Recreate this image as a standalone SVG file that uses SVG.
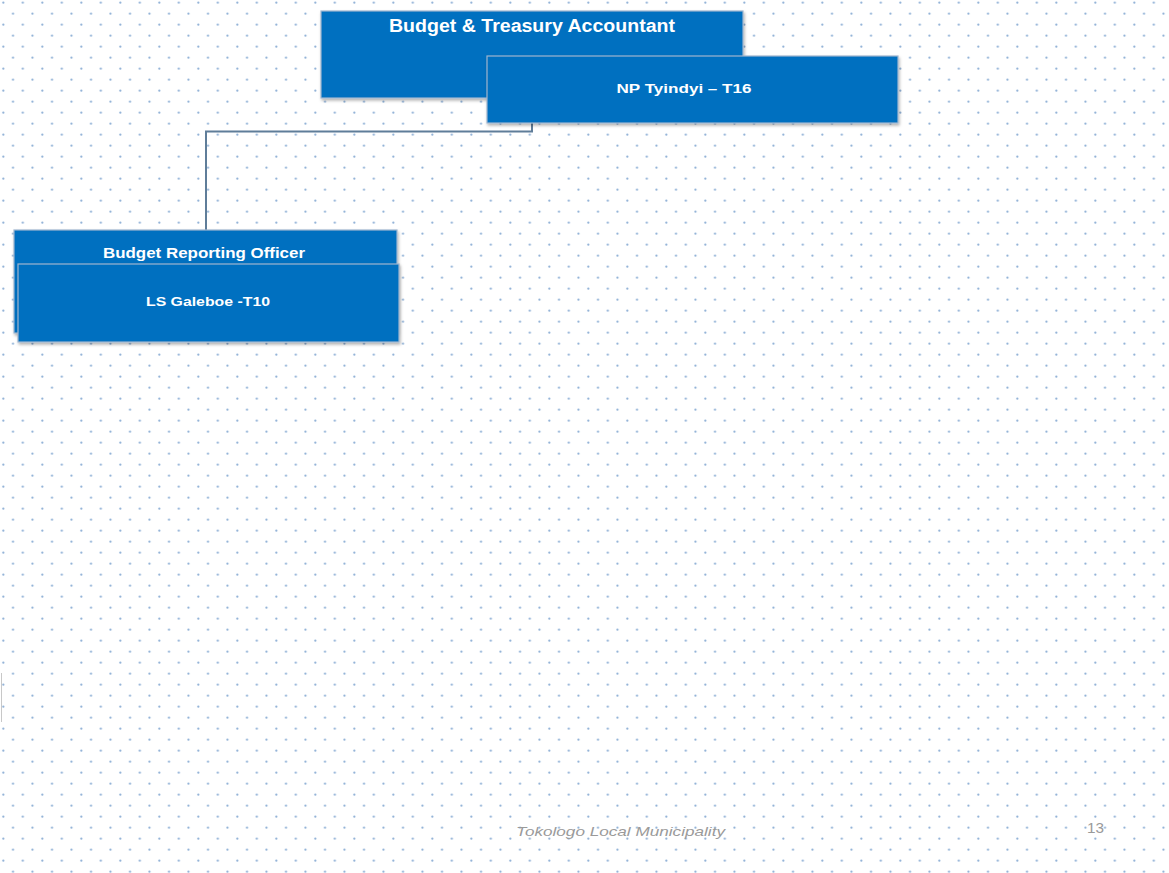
<svg xmlns="http://www.w3.org/2000/svg" width="1169" height="873" viewBox="0 0 1169 873">
<defs>
<pattern id="dots" x="0" y="0" width="19.5" height="22" patternUnits="userSpaceOnUse">
<circle cx="3.3" cy="2.7" r="1.1" fill="#8fb0d6"/>
<circle cx="13" cy="13.7" r="1.1" fill="#8fb0d6"/>
</pattern>
<filter id="sh" x="-5%" y="-10%" width="115%" height="130%">
<feDropShadow dx="1" dy="2" stdDeviation="1.5" flood-color="#000" flood-opacity="0.3"/>
</filter>
</defs>
<style>
.box{fill:#0070C0;stroke:#9db5cf;stroke-width:1.2;filter:url(#sh)}
.t{font-family:"Liberation Sans",Arial,sans-serif;fill:#ffffff;font-weight:bold;text-anchor:middle}
.conn{fill:none;stroke:#5f7d99;stroke-width:2}
.foot{font-family:"Liberation Sans",Arial,sans-serif;fill:#9a9a9a}
</style>
<rect width="1169" height="873" fill="#ffffff"/>
<rect width="1169" height="873" fill="url(#dots)"/>
<line x1="1.5" y1="673" x2="1.5" y2="722" stroke="#c8c8c8" stroke-width="1"/>
<g id="connectors">
<polyline class="conn" points="532,123 532,131.5 206,131.5 206,230"/>
</g>
<g id="node-accountant">
<rect class="box" x="321" y="11" width="422" height="87"/>
<text class="t" x="532" y="32" font-size="18" textLength="286" lengthAdjust="spacingAndGlyphs">Budget &amp; Treasury  Accountant</text>
</g>
<g id="node-tyindyi">
<rect class="box" x="487" y="56" width="411" height="67"/>
<text class="t" x="684" y="93" font-size="12" textLength="135" lengthAdjust="spacingAndGlyphs">NP Tyindyi  – T16</text>
</g>
<g id="node-reporting">
<rect class="box" x="14" y="230" width="383" height="103"/>
<text class="t" x="204" y="258" font-size="15" textLength="202" lengthAdjust="spacingAndGlyphs">Budget Reporting Officer</text>
</g>
<g id="node-galeboe">
<rect class="box" x="18" y="264" width="381" height="78"/>
<text class="t" x="208" y="306" font-size="12" textLength="124" lengthAdjust="spacingAndGlyphs">LS Galeboe   -T10</text>
</g>
<g id="footer">
<text class="foot" x="516" y="836" font-size="13" font-style="italic" textLength="209" lengthAdjust="spacingAndGlyphs">Tokologo Local Municipality</text>
<text class="foot" x="1087" y="833" font-size="14" textLength="17" lengthAdjust="spacingAndGlyphs">13</text>
</g>
</svg>
